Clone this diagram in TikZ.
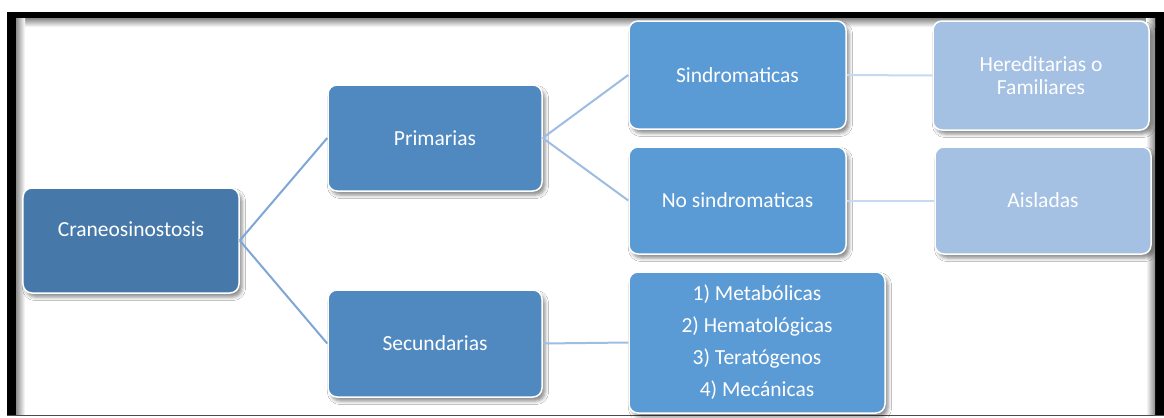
\documentclass[tikz,border=0pt]{standalone}
\usepackage{fontspec}
\setmainfont{Carlito}
\usetikzlibrary{shadows.blur}
\definecolor{cDark}{HTML}{4679AA}
\definecolor{cMid}{HTML}{5089C0}
\definecolor{cBlue}{HTML}{5B9BD5}
\definecolor{cLight}{HTML}{A4C0E2}
\definecolor{lnA}{HTML}{7EA7D8}
\definecolor{lnB}{HTML}{9DBDE4}
\definecolor{lnC}{HTML}{C6D9F0}
\begin{document}
\begin{tikzpicture}[x=1bp,y=-1bp,
  box/.style={draw=white, line width=1.5bp, rounded corners=9bp, text=white,
    font=\fontsize{21.5bp}{23bp}\selectfont, inner sep=0pt, align=center,
    blur shadow={shadow xshift=3bp, shadow yshift=-4bp, shadow blur radius=3.5bp, shadow opacity=45}},
  link/.style={line width=2bp}]
\useasboundingbox (0,0) rectangle (1164,417);
% frame
\fill[white] (0,0) rectangle (1164,417);
\fill[black] (7,12) rectangle (1164,416);
\fill[white] (16,18.5) rectangle (1155,414.5);
\shade[top color=black!45, bottom color=white] (16,18.5) rectangle (1155,27);
\shade[left color=black!45, right color=white] (16,18.5) rectangle (25,414.5);
\shade[left color=white, right color=black!45] (1146,18.5) rectangle (1155,414.5);
\fill[black!70] (7,414.5) rectangle (1164,416);
% nodes
\node[box, fill=cDark, minimum width=216bp, minimum height=105bp, text height=15bp, text depth=24bp] (c) at (131,240.5) {Craneosinostosis};
\node[box, fill=cMid, minimum width=214bp, minimum height=106bp] (p) at (435,138) {Primarias};
\node[box, fill=cMid, minimum width=214bp, minimum height=107bp] (s) at (435,343.5) {Secundarias};
\node[box, fill=cBlue, minimum width=217bp, minimum height=108bp] (sin) at (737.5,75) {Sindromaticas};
\node[box, fill=cBlue, minimum width=217bp, minimum height=107bp] (nos) at (737.5,200.5) {No sindromaticas};
\node[box, fill=cLight, minimum width=216bp, minimum height=109bp] (h) at (1041,75.5) {Hereditarias o\\Familiares};
\node[box, fill=cLight, minimum width=216bp, minimum height=107bp] (a) at (1043,200.5) {Aisladas};
\node[box, fill=cBlue, minimum width=256bp, minimum height=141bp, font=\fontsize{21.5bp}{32bp}\selectfont] (l) at (757,342.5) {1) Metabólicas\\2) Hematológicas\\3) Teratógenos\\4) Mecánicas};
% connectors
\draw[link, lnA] (c.east) -- (p.west);
\draw[link, lnA] (c.east) -- (s.west);
\draw[link, lnB] (p.east) -- (sin.west);
\draw[link, lnB] (p.east) -- (nos.west);
\draw[link, lnB] (s.east) -- (l.west);
\draw[link, lnC] (sin.east) -- (h.west);
\draw[link, lnC] (nos.east) -- (a.west);
\end{tikzpicture}
\end{document}
